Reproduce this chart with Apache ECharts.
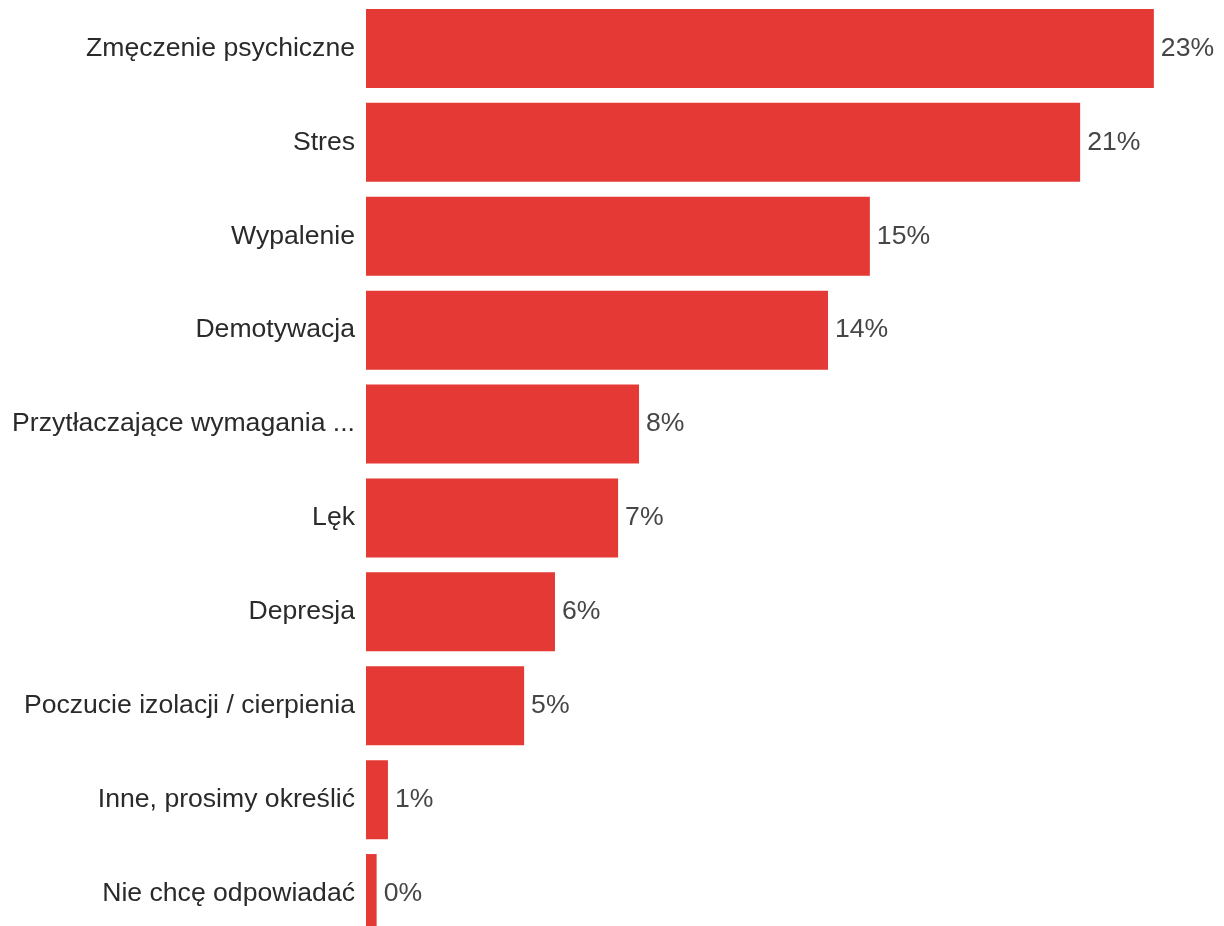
<!DOCTYPE html>
<html>
<head>
<meta charset="utf-8">
<script src="https://cdn.jsdelivr.net/npm/echarts@6/dist/echarts.min.js"></script>
<style>
html,body{margin:0;padding:0;background:#fff;overflow:hidden;}
#chart{width:1224px;height:945px;}
</style>
</head>
<body>
<div id="chart"></div>
<script>
const categories = [
  "Zmęczenie psychiczne",
  "Stres",
  "Wypalenie",
  "Demotywacja",
  "Przytłaczające wymagania ...",
  "Lęk",
  "Depresja",
  "Poczucie izolacji / cierpienia",
  "Inne, prosimy określić",
  "Nie chcę odpowiadać"
];
const values = [22.97, 20.82, 14.69, 13.47, 7.96, 7.35, 5.51, 4.61, 0.64, 0.31];
const valueLabels = ["23%", "21%", "15%", "14%", "8%", "7%", "6%", "5%", "1%", "0%"];

const chart = echarts.init(document.getElementById('chart'), null, {renderer: 'canvas'});
const FONT = '"Liberation Sans", Arial, sans-serif';
chart.setOption({
  animation: false,
  backgroundColor: '#ffffff',
  grid: {left: 366, top: 1.5, width: 857.5, height: 939, containLabel: false},
  xAxis: {
    type: 'value', min: 0, max: 25, show: false,
    splitLine: {show: false}
  },
  yAxis: {
    type: 'category', data: categories, inverse: true,
    axisLine: {show: false}, axisTick: {show: false},
    axisLabel: {color: '#2a2a2a', fontSize: 26.6, fontFamily: FONT, margin: 11}
  },
  series: [{
    type: 'bar',
    data: values,
    barWidth: 79,
    itemStyle: {color: '#e53935'},
    label: {
      show: true, position: 'right', distance: 7,
      color: '#464646', fontSize: 26.6, fontFamily: FONT,
      formatter: p => valueLabels[p.dataIndex]
    }
  }]
});
</script>
</body>
</html>
